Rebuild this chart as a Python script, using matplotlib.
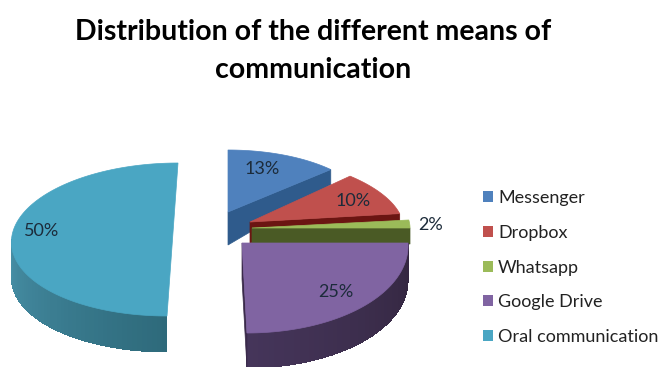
import numpy as np
import matplotlib
matplotlib.use("Agg")
import matplotlib.pyplot as plt
from matplotlib.colors import to_rgb
from matplotlib.patches import Patch

plt.rcParams["font.family"] = ["Lato", "DejaVu Sans"]

# values of the chart
names = ["Messenger", "Dropbox", "Whatsapp", "Google Drive", "Oral communication"]
percent = [13, 10, 2, 25, 50]
label_text = ["13%", "10%", "2%", "25%", "50%"]

top_colors = ["#4f81bd", "#c0504d", "#9bbb59", "#8064a2", "#4aa6c3"]
face_colors = ["#2f5b8c", "#6b1512", "#4a5a25", "#3a2a4a", "#2f6b7c"]
side_start = ["#2f5b8c", "#6b1512", "#4a5a25", "#33263f", "#2e6a7b"]
side_end = ["#2f5b8c", "#6b1512", "#4a5a25", "#45355a", "#478fa6"]

# where each exploded slice sits on the picture, in pixels
# cx, cy, a, b, shear, depth at the tip, depth at the rim
place = [
    (228, 212, 141, 62, 0.0, 33, 15),
    (250, 222, 153, 67, -0.25, 21, 7),
    (252, 228, 158, 64, 0.0, 15, 16),
    (242, 243, 166, 90, -0.055, 36, 35),
    (172.5, 239.5, 161, 76.5, 0.072, 36, 36),
]
show_end_face = [True, True, True, True, False]
label_xy = [(262, 169), (353, 201), (431, 225), (336, 292), (42, 231)]


def rim(t, p):
    cx, cy, a, b, sh = p[:5]
    return cx + a * np.sin(t) + sh * b * np.cos(t), cy - b * np.cos(t)


fig = plt.figure(figsize=(6.59, 3.67), dpi=100)
ax = fig.add_axes([0, 0, 1, 1])
ax.set_xlim(0, 659)
ax.set_ylim(367, 0)
ax.axis("off")

edges = np.radians(np.cumsum([0] + percent) * 3.6)

for i in range(len(percent)):
    p = place[i]
    t0, t1 = edges[i], edges[i + 1]
    dv, dr = p[5], p[6]

    # outer wall, only the part that faces the viewer
    lo, hi = max(t0, np.pi / 2), min(t1, 3 * np.pi / 2)
    if hi > lo:
        cuts = np.linspace(lo, hi, 50)
        c0, c1 = np.array(to_rgb(side_start[i])), np.array(to_rgb(side_end[i]))
        for k in range(len(cuts) - 1):
            tt = np.linspace(cuts[k], cuts[k + 1], 3)
            x, y = rim(tt, p)
            f = k / (len(cuts) - 2)
            ax.fill(np.r_[x, x[::-1]], np.r_[y, y[::-1] + dr], color=c0 + (c1 - c0) * f,
                    lw=0, antialiased=False, zorder=i + 1)

    # cut face at the end of the slice
    if show_end_face[i]:
        x, y = rim(t1, p)
        ax.fill([p[0], x, x, p[0]], [p[1], y, y + dr, p[1] + dv],
                color=face_colors[i], lw=0.5, zorder=i + 1)

    # top of the slice
    tt = np.linspace(t0, t1, 120)
    x, y = rim(tt, p)
    ax.fill(np.r_[p[0], x], np.r_[p[1], y], color=top_colors[i], lw=0.5, zorder=i + 1.5)

    ax.text(label_xy[i][0], label_xy[i][1], label_text[i], fontsize=13,
            color="#1c2b3a", ha="center", va="center", zorder=10)

ax.text(313, 32, "Distribution of the different means of", fontsize=20.5, fontweight="bold",
        color="black", ha="center", va="center")
ax.text(313, 70, "communication", fontsize=20.5, fontweight="bold",
        color="black", ha="center", va="center")

handles = [Patch(facecolor=c, edgecolor="none") for c in top_colors]
ax.legend(handles, names, loc="center left", bbox_to_anchor=(483, 267.5),
          bbox_transform=ax.transData, frameon=False, fontsize=13,
          handlelength=0.55, handleheight=0.55, handletextpad=0.28,
          labelspacing=1.03, borderpad=0, borderaxespad=0, labelcolor="#222222")

fig.savefig("out.png", dpi=100)
